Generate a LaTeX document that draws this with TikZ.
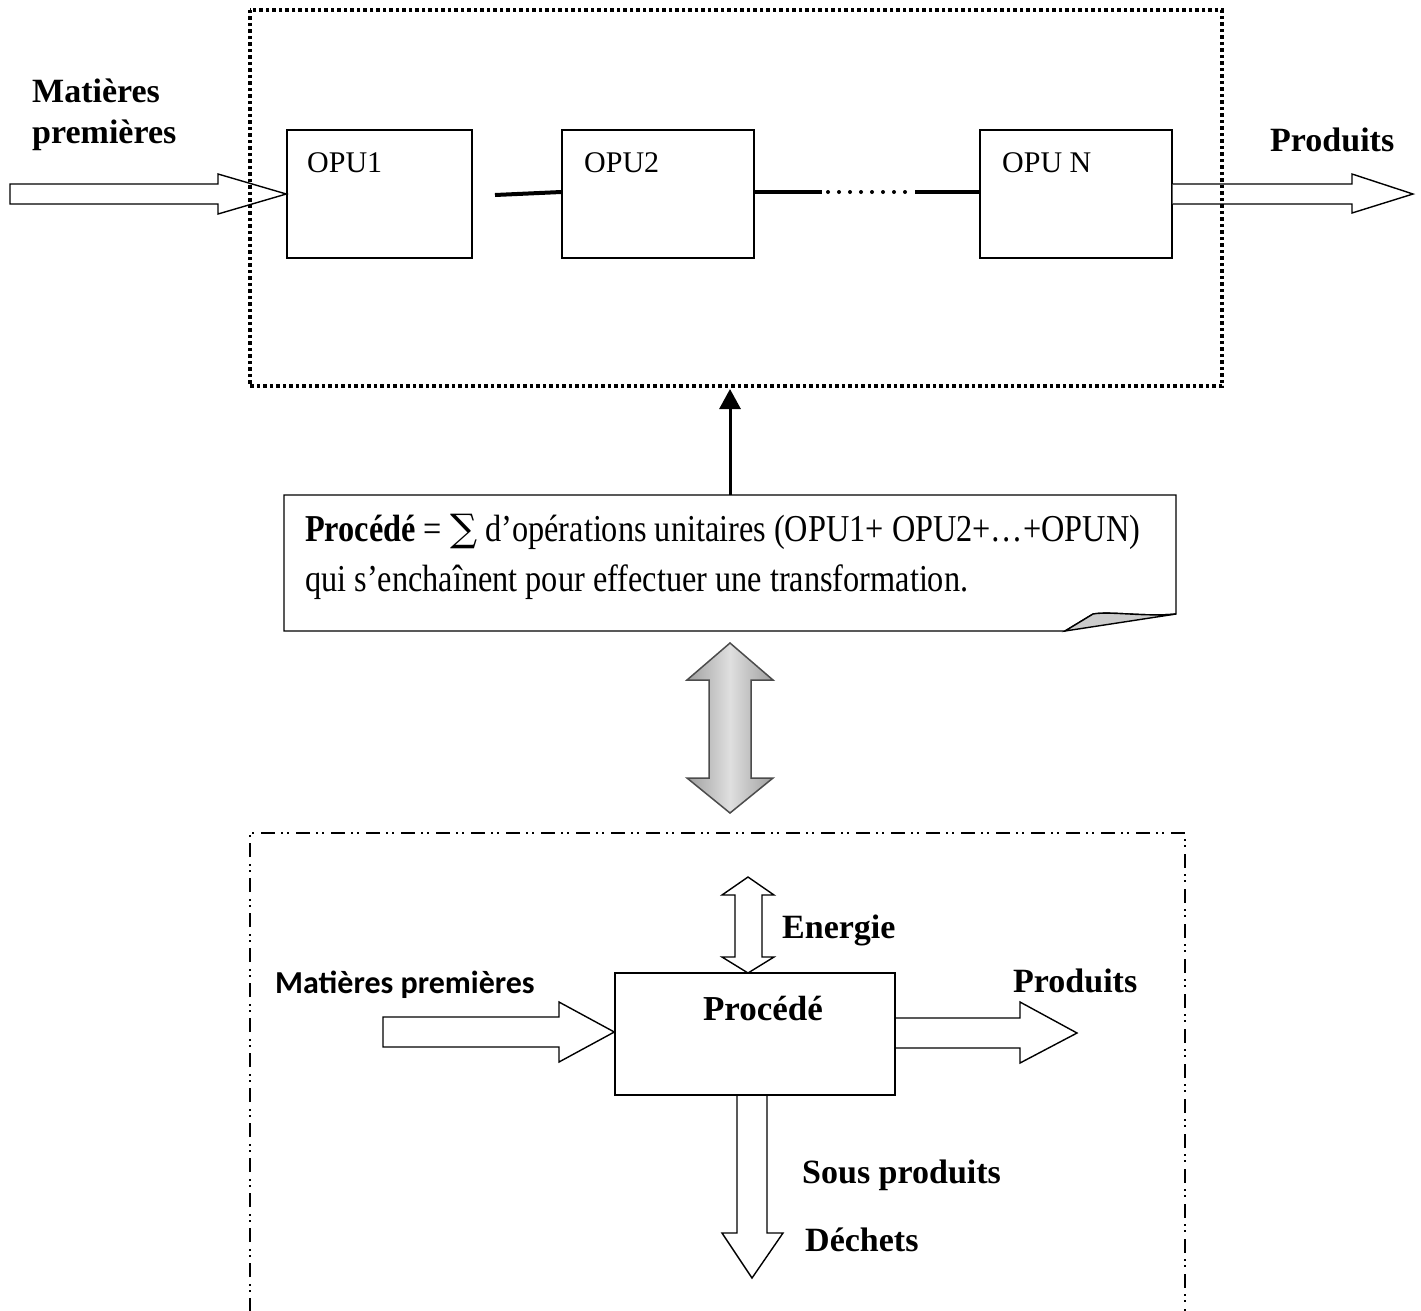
\documentclass[tikz,border=0pt]{standalone}
\usepackage{fontspec}
\setmainfont{Liberation Serif}
\newfontfamily\sansb{Carlito}
\newfontfamily\notefont[FakeStretch=0.85]{Liberation Serif}
\newfontfamily\symfont{DejaVu Serif}
\usetikzlibrary{arrows.meta}
\tikzset{
  topframe/.style={line width=3.5pt, dash pattern=on 3.5pt off 3pt},
  ddframe/.style={line width=2pt, dash pattern=on 14pt off 6pt on 2pt off 4pt on 2pt off 7pt},
  opubox/.style={draw, line width=1.4pt, minimum height=128pt, inner sep=0pt},
  procbox/.style={draw, line width=1.4pt, minimum width=280pt, minimum height=122pt, inner sep=0pt},
  link/.style={line width=4pt},
  dotlink/.style={line width=4pt, line cap=round, dash pattern=on 0pt off 11pt},
  blockarrow/.style={draw, fill=white, line width=1.4pt, line join=miter},
  lbl/.style={inner sep=0pt, anchor=base west},
  boldlbl/.style={lbl, font=\fontsize{34}{40}\selectfont\bfseries},
  opulbl/.style={lbl, font=\fontsize{30}{36}\selectfont},
  notelbl/.style={lbl, font=\fontsize{38}{44}\notefont},
}
\begin{document}
\begin{tikzpicture}[x=1pt,y=-1pt]
\useasboundingbox (0,0) rectangle (1421,1310);

% ---------- top part ----------
\node[opubox, minimum width=185pt] (opu1) at (379.5,194) {};
\node[opubox, minimum width=192pt] (opu2) at (658,194) {};
\node[opubox, minimum width=192pt] (opuN) at (1076,194) {};
\node[opulbl] (t1) at (307,172) {OPU1};
\node[opulbl] (t2) at (584,172) {OPU2};
\node[opulbl] (tN) at (1002,172) {OPU N};

\coordinate (c1) at (495,195);
\draw[link] (c1) -- ([yshift=2pt]opu2.west);
\coordinate (d1) at (822,192);
\coordinate (d2) at (828,192);
\coordinate (d3) at (908,192);
\coordinate (d4) at (915,192);
\draw[link] ([yshift=2pt]opu2.east) -- (d1);
\draw[dotlink] (d2) -- (d3);
\draw[link] (d4) -- ([yshift=2pt]opuN.west);

% input arrow
\path[blockarrow] (10,184) -- (218,184) -- (218,174) -- (opu1.west) -- (218,214) -- (218,204) -- (10,204) -- cycle;
% output arrow
\path[fill=white] (opuN.east |- 0,184) -- (1352,184) -- (1352,174) -- (1413,194) -- (1352,213) -- (1352,204) -- (opuN.east |- 0,204) -- cycle;
\draw[line width=1.4pt, line join=miter] (opuN.east |- 0,184) -- (1352,184) -- (1352,174) -- (1413,194) -- (1352,213) -- (1352,204) -- (opuN.east |- 0,204);

\node[boldlbl] (mp1) at (32,102) {Matières};
\node[boldlbl] (mp2) at (32,143) {premières};
\node[boldlbl] (pr1) at (1270,151) {Produits};

% dotted frame
\node[inner sep=0pt, minimum width=972pt, minimum height=376pt] (frame) at (736,198) {};
\draw[topframe] (frame.north west) rectangle (frame.south east);

% ---------- note ----------
\node[inner sep=0pt, minimum width=892pt, minimum height=136pt] (note) at (730,563) {};
\draw[line width=1.4pt, line join=miter] (284,495) -- (1176,495) -- (1176,614)
  .. controls (1145,617) and (1110,611) .. (1093,614) -- (1065,631) -- (284,631) -- cycle;
\filldraw[fill=gray!40, line width=1.4pt, line join=miter] (1065,631) -- (1093,614)
  .. controls (1110,611) and (1145,617) .. (1176,614) -- cycle;
\node[notelbl] (n1) at (305,541) {\textbf{Procédé} = {\symfont ∑} d’opérations unitaires (OPU1+ OPU2+…+OPUN)};
\node[notelbl] (n2) at (305,591) {qui s’enchaînent pour effectuer une transformation.};

\coordinate (up) at (730,389);
\draw[line width=3pt, -{Triangle[length=20pt,width=21pt]}] (note.north) -- (up);

% ---------- gray double arrow ----------
\shade[left color=gray!75, right color=gray!75, middle color=gray!25]
  (730,643) -- (773,680) -- (751,680) -- (751,778) -- (773,778) -- (730,813)
  -- (687,778) -- (709,778) -- (709,680) -- (687,680) -- cycle;
\draw[gray!60!black, line width=1.5pt, line join=miter]
  (730,643) -- (773,680) -- (751,680) -- (751,778) -- (773,778) -- (730,813)
  -- (687,778) -- (709,778) -- (709,680) -- (687,680) -- cycle;

% ---------- bottom part ----------
\draw[ddframe] (250,1312) -- (250,833) -- (1185,833) -- (1185,1312);

\node[procbox] (proc) at (755,1034) {};
\node[inner sep=0pt, anchor=base, font=\fontsize{35}{40}\selectfont\bfseries] (proct) at (763,1020) {Procédé};

% energy double arrow
\path[blockarrow] (748,877) -- (774,895) -- (762,895) -- (762,957) -- (774,957) -- (748,973)
  -- (722,957) -- (735,957) -- (735,895) -- (722,895) -- cycle;
\node[boldlbl] (en) at (782,938) {Energie};

% input arrow
\path[blockarrow] (383,1017) -- (559,1017) -- (559,1002) -- (proc.west |- 0,1032) -- (559,1062) -- (559,1047) -- (383,1047) -- cycle;
\node[lbl, font=\fontsize{32}{38}\sansb\bfseries] (mp3) at (275,993) {Matières premières};

% output arrow
\draw[line width=1.4pt, line join=miter] (proc.east |- 0,1018) -- (1020,1018) -- (1020,1002) -- (1077,1033)
  -- (1020,1063) -- (1020,1048) -- (proc.east |- 0,1048);
\node[boldlbl] (pr2) at (1013,992) {Produits};

% down arrow
\draw[line width=1.4pt, line join=miter] (proc.south -| 737,0) -- (737,1233) -- (722,1233) -- (752,1278)
  -- (783,1233) -- (767,1233) -- (proc.south -| 767,0);
\node[boldlbl] (sp) at (802,1183) {Sous produits};
\node[boldlbl] (de) at (805,1251) {Déchets};
\end{tikzpicture}
\end{document}
